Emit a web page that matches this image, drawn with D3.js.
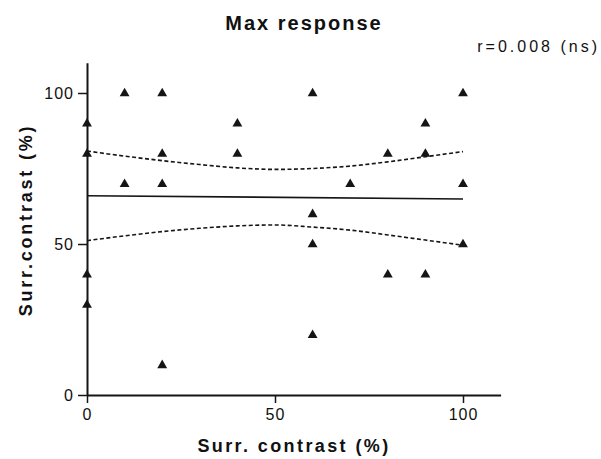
<!DOCTYPE html>
<html>
<head>
<meta charset="utf-8">
<script src="https://cdn.jsdelivr.net/npm/d3@7"></script>
<style>
  html, body { margin: 0; padding: 0; background: #fff; }
  svg { display: block; }
  text { font-family: "Liberation Sans", Arial, Helvetica, sans-serif; fill: #111; }
</style>
</head>
<body>
<svg id="chart" width="601" height="459"></svg>
<script>
// ---- data ----
const title = "Max response";
const statLabel = "r=0.008 (ns)";
const xLabel = "Surr. contrast (%)";
const yLabel = "Surr.contrast (%)";
const xTicks = [0, 50, 100];
const yTicks = [0, 50, 100];

const pointsX = [0, 0, 0, 0, 10, 10, 20, 20, 20, 20, 40, 40, 60, 60, 60, 60, 70, 80, 80, 90, 90, 90, 100, 100, 100];
const pointsY = [90, 80, 40, 30, 100, 70, 100, 80, 70, 10, 90, 80, 100, 60, 50, 20, 70, 80, 40, 90, 80, 40, 100, 70, 50];

const fitX = [0, 100];
const fitY = [66.0, 64.9];

const bandX = [0, 10, 20, 30, 40, 50, 60, 70, 80, 90, 100];
const bandUpper = [80.8, 79.1, 77.6, 76.3, 75.2, 74.7, 75.0, 75.8, 77.2, 78.9, 80.6];
const bandLower = [51.1, 52.7, 54.1, 55.2, 56.0, 56.3, 55.6, 54.6, 53.0, 51.3, 49.6];

// ---- chart ----
const svg = d3.select("#chart");
const x = d3.scaleLinear().domain([0, 110]).range([87, 500.6]);
const y = d3.scaleLinear().domain([0, 110]).range([395, 62.8]);

const black = "#151515";

// axes
const xAxis = d3.axisBottom(x).tickValues(xTicks).tickSize(8).tickSizeOuter(0).tickPadding(5);
const gx = svg.append("g").attr("transform", "translate(0,395)").call(xAxis);
gx.select(".domain").attr("stroke", black).attr("stroke-width", 2);
gx.selectAll(".tick line").attr("stroke", black).attr("stroke-width", 1.5);
gx.selectAll(".tick text")
  .style("font-size", "16px").style("letter-spacing", "1px")
  .attr("fill", black).attr("dy", "0.72em");

const yAxis = d3.axisLeft(y).tickValues(yTicks).tickSize(9).tickSizeOuter(0).tickPadding(4);
const gy = svg.append("g").attr("transform", "translate(87,0)").call(yAxis);
gy.select(".domain").attr("stroke", black).attr("stroke-width", 2);
gy.selectAll(".tick line").attr("stroke", black).attr("stroke-width", 1.5);
gy.selectAll(".tick text")
  .style("font-size", "16px").style("letter-spacing", "1px")
  .attr("fill", black);

// confidence bands
const bandLine = (arr) => d3.line()
  .x((d, i) => x(bandX[i]))
  .y((d) => y(d))
  .curve(d3.curveMonotoneX)(arr);

svg.append("path").attr("d", bandLine(bandUpper))
  .attr("fill", "none").attr("stroke", black).attr("stroke-width", 1.6)
  .attr("stroke-dasharray", "4,2.5");
svg.append("path").attr("d", bandLine(bandLower))
  .attr("fill", "none").attr("stroke", black).attr("stroke-width", 1.6)
  .attr("stroke-dasharray", "4,2.5");

// regression line
svg.append("path")
  .attr("d", d3.line().x((d, i) => x(fitX[i])).y(d => y(d))(fitY))
  .attr("fill", "none").attr("stroke", black).attr("stroke-width", 1.6);

// points
const sym = d3.symbol(d3.symbolTriangle, 42);
svg.append("g").selectAll("path")
  .data(pointsX.map((v, i) => [v, pointsY[i]]))
  .join("path")
  .attr("d", sym)
  .attr("transform", d => `translate(${x(d[0])},${y(d[1]) + 0.5})`)
  .attr("fill", black);

// texts
svg.append("text").attr("x", 304).attr("y", 30)
  .attr("text-anchor", "middle")
  .style("font-size", "20px").style("font-weight", "bold").style("letter-spacing", "2px")
  .text(title);

svg.append("text").attr("x", 600).attr("y", 52)
  .attr("text-anchor", "end")
  .style("font-size", "16px").style("letter-spacing", "3px")
  .text(statLabel);

svg.append("text").attr("x", 294).attr("y", 452)
  .attr("text-anchor", "middle")
  .style("font-size", "18px").style("font-weight", "bold").style("letter-spacing", "2.4px")
  .text(xLabel);

svg.append("text")
  .attr("transform", "translate(32,220) rotate(-90)")
  .attr("text-anchor", "middle")
  .style("font-size", "18px").style("font-weight", "bold").style("letter-spacing", "2.8px")
  .text(yLabel);
</script>
</body>
</html>
